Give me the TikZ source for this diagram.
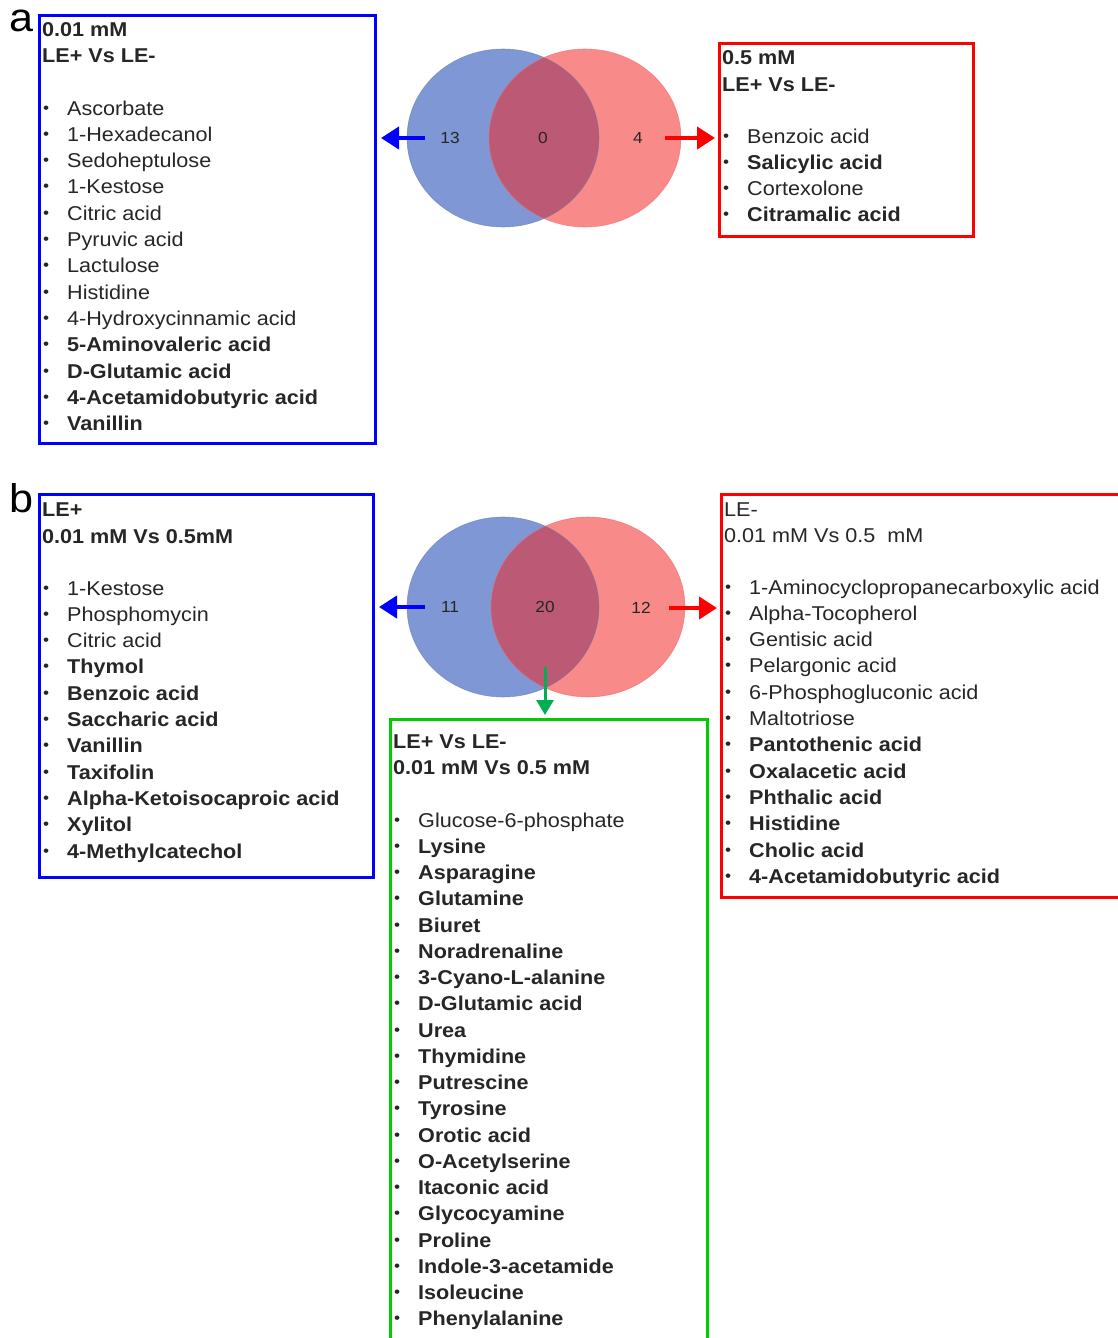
\documentclass[tikz,border=0pt]{standalone}
\usepackage{fontspec}
\setmainfont{Liberation Sans}[FakeStretch=1.08]
\usetikzlibrary{arrows.meta,positioning}
\definecolor{boxblue}{RGB}{0,0,255}
\definecolor{boxred}{RGB}{255,0,0}
\definecolor{boxgreen}{RGB}{0,204,0}
\definecolor{arrowgreen}{RGB}{0,176,80}
\definecolor{vennblue}{RGB}{127,151,212}
\definecolor{vennred}{RGB}{243,34,34}
\definecolor{listtext}{RGB}{38,38,38}

\tikzset{
  listbox/.style={line width=3pt, inner sep=0pt, anchor=north west},
  entry/.style={anchor=base west, inner sep=0pt, text=listtext, font=\fontsize{20}{20}\selectfont},
  head/.style={entry, font=\fontsize{20}{20}\selectfont\bfseries},
  dot/.style={anchor=base west, inner sep=0pt, yshift=2pt, text=listtext, font=\fontsize{16}{16}\selectfont},
  count/.style={inner sep=0pt, text=listtext, font=\fontsize{16}{16}\selectfont},
  panel/.style={anchor=base west, inner sep=0pt, font=\fontsize{40}{40}\selectfont},
  pointer/.style={-{Triangle[length=18pt,width=22pt]}, line width=4pt},
}

\begin{document}
\begin{tikzpicture}[x=1pt, y=-1pt]
\useasboundingbox (0,0) rectangle (1118,1338);

% --- Panel a ---
\node[panel] (lab-a) at (9,32) {a};
\node[listbox, draw=boxblue, minimum width=336pt, minimum height=428pt] (boxA1) at (38,14) {};
\node[head] (a1-h1) at (42,37) {0.01 mM};
\node[head] (a1-h2) at (42,63) {LE+ Vs LE-};
\foreach \txt [count=\i from 0] in {Ascorbate, 1-Hexadecanol, Sedoheptulose, 1-Kestose, Citric acid, Pyruvic acid, Lactulose, Histidine, 4-Hydroxycinnamic acid, \textbf{5-Aminovaleric acid}, \textbf{D-Glutamic acid}, \textbf{4-Acetamidobutyric acid}, \textbf{Vanillin}} {
  \node[dot] (a1-dot\i) at (43,{115+26.3*\i}) {•};
  \node[entry] (a1-item\i) at (67,{115+26.3*\i}) {\txt};
}

\node[listbox, draw=boxred, minimum width=254pt, minimum height=193pt] (boxA2) at (718,42) {};
\node[head] (a2-h1) at (722,64) {0.5 mM};
\node[head] (a2-h2) at (722,91) {LE+ Vs LE-};
\foreach \txt [count=\i from 0] in {Benzoic acid, \textbf{Salicylic acid}, Cortexolone, \textbf{Citramalic acid}} {
  \node[dot] (a2-dot\i) at (723,{143+26.3*\i}) {•};
  \node[entry] (a2-item\i) at (747,{143+26.3*\i}) {\txt};
}

% Venn a
\fill[vennblue] (503,138) ellipse [x radius=96pt, y radius=89pt];
\fill[vennred, opacity=0.53] (585,138) ellipse [x radius=96pt, y radius=89pt];
\draw[vennblue!80!black, line width=0.6pt, opacity=0.6] (503,138) ellipse [x radius=96pt, y radius=89pt];
\draw[vennred!70, line width=0.6pt, opacity=0.6] (585,138) ellipse [x radius=96pt, y radius=89pt];
\node[count] (a-only1) at (450,138) {13};
\node[count] (a-both) at (543,138) {0};
\node[count] (a-only2) at (638,138) {4};

\draw[pointer, boxblue, shorten >=4pt] ([xshift=-15pt]a-only1.west) -- (a-only1 -| boxA1.east);
\draw[pointer, boxred, shorten >=3pt] ([xshift=22pt]a-only2.east) -- (a-only2 -| boxA2.west);

% --- Panel b ---
\node[panel] (lab-b) at (9,512) {b};
\node[listbox, draw=boxblue, minimum width=334pt, minimum height=383pt] (boxB1) at (38,493) {};
\node[head] (b1-h1) at (42,516) {LE+};
\node[head] (b1-h2) at (42,543) {0.01 mM Vs 0.5mM};
\foreach \txt [count=\i from 0] in {1-Kestose, Phosphomycin, Citric acid, \textbf{Thymol}, \textbf{Benzoic acid}, \textbf{Saccharic acid}, \textbf{Vanillin}, \textbf{Taxifolin}, \textbf{Alpha-Ketoisocaproic acid}, \textbf{Xylitol}, \textbf{4-Methylcatechol}} {
  \node[dot] (b1-dot\i) at (43,{595+26.3*\i}) {•};
  \node[entry] (b1-item\i) at (67,{595+26.3*\i}) {\txt};
}

\node[listbox, draw=boxred, minimum width=410pt, minimum height=403pt] (boxB2) at (720,493) {};
\node[entry] (b2-h1) at (724,516) {LE-};
\node[entry] (b2-h2) at (724,542) {0.01 mM Vs 0.5\ \ mM};
\foreach \txt [count=\i from 0] in {1-Aminocyclopropanecarboxylic acid, Alpha-Tocopherol, Gentisic acid, Pelargonic acid, 6-Phosphogluconic acid, Maltotriose, \textbf{Pantothenic acid}, \textbf{Oxalacetic acid}, \textbf{Phthalic acid}, \textbf{Histidine}, \textbf{Cholic acid}, \textbf{4-Acetamidobutyric acid}} {
  \node[dot] (b2-dot\i) at (725,{594+26.3*\i}) {•};
  \node[entry] (b2-item\i) at (749,{594+26.3*\i}) {\txt};
}

\node[listbox, draw=boxgreen, minimum width=317pt, minimum height=630pt] (boxB3) at (389,718) {};
\node[head] (b3-h1) at (393,748) {LE+ Vs LE-};
\node[head] (b3-h2) at (393,774) {0.01 mM Vs 0.5 mM};
\foreach \txt [count=\i from 0] in {Glucose-6-phosphate, \textbf{Lysine}, \textbf{Asparagine}, \textbf{Glutamine}, \textbf{Biuret}, \textbf{Noradrenaline}, \textbf{3-Cyano-L-alanine}, \textbf{D-Glutamic acid}, \textbf{Urea}, \textbf{Thymidine}, \textbf{Putrescine}, \textbf{Tyrosine}, \textbf{Orotic acid}, \textbf{O-Acetylserine}, \textbf{Itaconic acid}, \textbf{Glycocyamine}, \textbf{Proline}, \textbf{Indole-3-acetamide}, \textbf{Isoleucine}, \textbf{Phenylalanine}} {
  \node[dot] (b3-dot\i) at (394,{827+26.26*\i}) {•};
  \node[entry] (b3-item\i) at (418,{827+26.26*\i}) {\txt};
}

% Venn b
\fill[vennblue] (503,607) ellipse [x radius=96pt, y radius=90pt];
\fill[vennred, opacity=0.53] (588,607) ellipse [x radius=97pt, y radius=90pt];
\draw[vennblue!80!black, line width=0.6pt, opacity=0.6] (503,607) ellipse [x radius=96pt, y radius=90pt];
\draw[vennred!70, line width=0.6pt, opacity=0.6] (588,607) ellipse [x radius=97pt, y radius=90pt];
\node[count] (b-only1) at (450,607) {11};
\node[count] (b-both) at (545,607) {20};
\node[count] (b-only2) at (641,608) {12};

\draw[pointer, boxblue, shorten >=4pt] ([xshift=-16pt]b-only1.west) -- (b-only1 -| boxB1.east);
\draw[pointer, boxred, shorten >=3pt] ([xshift=18pt]b-only2.east) -- (b-only2 -| boxB2.west);
\draw[-{Triangle[length=15pt,width=17pt]}, line width=3pt, arrowgreen, shorten >=3pt] ([yshift=-54pt]b-both.south) -- (b-both |- boxB3.north);
\end{tikzpicture}
\end{document}
